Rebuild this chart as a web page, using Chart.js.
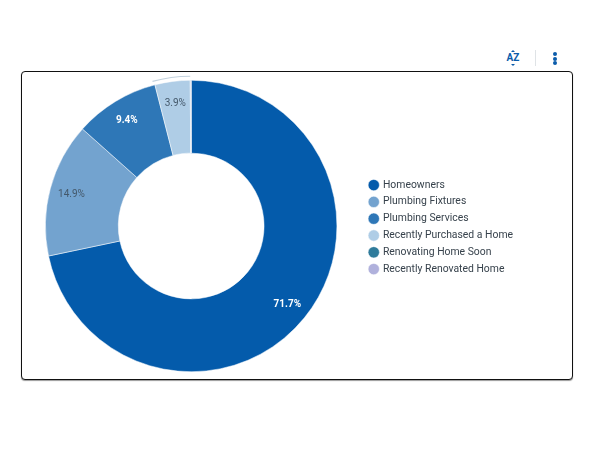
<!DOCTYPE html>
<html><head><meta charset="utf-8">
<script src="https://cdn.jsdelivr.net/npm/chart.js@4"></script>
<style>
html,body{margin:0;padding:0;background:#fff;width:600px;height:450px;overflow:hidden;font-family:Roboto,sans-serif}
#card{position:absolute;left:21px;top:71px;width:550px;height:307px;border:1.5px solid #111;border-radius:4px;box-shadow:0 1px 1px #999;background:#fff}
#wrap{position:absolute;left:-3px;top:0;width:550px;height:307px}
#az{position:absolute;left:506px;top:51px;width:14px;text-align:center;font:700 10px/14px Roboto,sans-serif;color:#0b5cab}
#az:before,#az:after{content:"";position:absolute;left:5px;width:0;height:0;border-left:2px solid transparent;border-right:2px solid transparent}
#az:before{top:-1px;border-bottom:2px solid #0b5cab}
#az:after{bottom:-1px;border-top:2px solid #0b5cab}
#sep{position:absolute;left:535px;top:50px;width:1px;height:16px;background:#dfe3e6}
.dot{position:absolute;left:553px;width:4px;height:4px;border-radius:50%;background:#0b5cab}
</style></head><body>
<div id="az">AZ</div><div id="sep"></div>
<div class="dot" style="top:52px"></div><div class="dot" style="top:56.5px"></div><div class="dot" style="top:61px"></div>
<div id="card"><div id="wrap"><canvas id="c"></canvas></div></div>
<script>
const categories=["Homeowners","Plumbing Fixtures","Plumbing Services","Recently Purchased a Home","Renovating Home Soon","Recently Renovated Home"];
const values=[71.7,14.9,9.4,3.9,0.05,0.05];
const colors=["#045BAB","#73A3CF","#2E77B7","#AFCDE6","#2F7B9B","#B0B1DC"];
const valueLabels=["71.7%","14.9%","9.4%","3.9%","",""];
const labelColors=["#ffffff","#44586a","#ffffff","#44586a","",""];
const labelWeights=["700","400","700","400","",""];
const highlightedSlice=3;

const sliceLabels={id:"sliceLabels",
 afterDatasetsDraw(chart){
  const ctx=chart.ctx,arcs=chart.getDatasetMeta(0).data;
  ctx.save();ctx.textAlign="center";ctx.textBaseline="middle";
  arcs.forEach((a,i)=>{
   if(!valueLabels[i])return;
   const mid=(a.startAngle+a.endAngle)/2,r=a.outerRadius*0.85;
   ctx.fillStyle=labelColors[i];
   ctx.font=labelWeights[i]+" 10px Roboto";
   ctx.fillText(valueLabels[i],a.x+Math.cos(mid)*r,a.y+Math.sin(mid)*r);
  });
  const h=arcs[highlightedSlice];
  ctx.beginPath();ctx.strokeStyle="#c3d2de";ctx.lineWidth=1.2;
  ctx.arc(h.x,h.y,h.outerRadius+4,h.startAngle-0.01,h.endAngle);ctx.stroke();
  ctx.restore();
 }};

new Chart(document.getElementById("c"),{type:"doughnut",
 data:{labels:categories,datasets:[{data:values,backgroundColor:colors,borderColor:"#ffffff",borderWidth:0.5}]},
 options:{responsive:true,maintainAspectRatio:false,animation:false,cutout:"50%",
  layout:{padding:{top:8,bottom:7,left:0,right:46}},
  plugins:{tooltip:{enabled:false},
   legend:{position:"right",align:"center",
    title:{display:true,text:" ",font:{size:1},padding:0.5},
    labels:{usePointStyle:true,pointStyle:"circle",boxWidth:8,boxHeight:8,padding:6.4,color:"#37424c",font:{family:"Roboto",size:10.4}}}}},
 plugins:[sliceLabels]});
</script></body></html>
